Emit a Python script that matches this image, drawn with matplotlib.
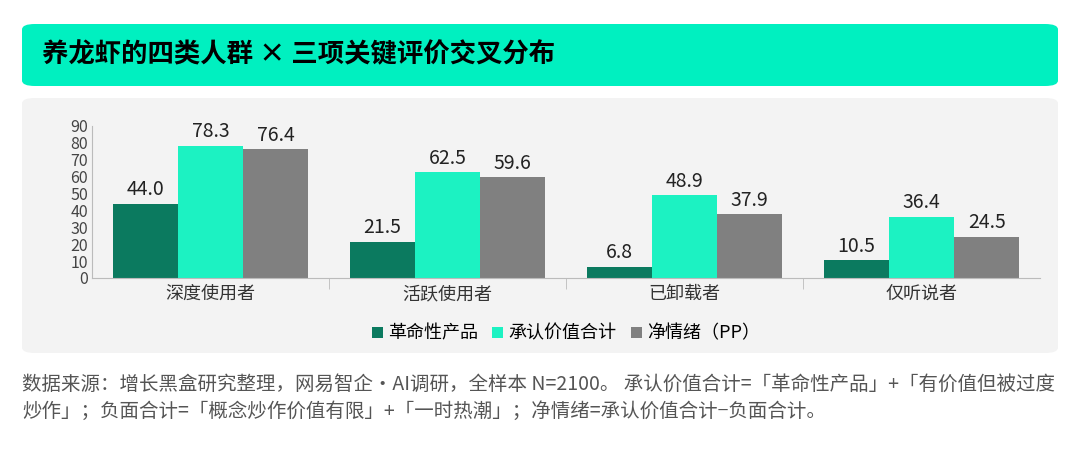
import numpy as np
import matplotlib.pyplot as plt
from matplotlib.patches import FancyBboxPatch

plt.rcParams['font.family'] = ['Noto Sans CJK SC', 'DejaVu Sans']

categories = ['深度使用者', '活跃使用者', '已卸载者', '仅听说者']
revolutionary = [44.0, 21.5, 6.8, 10.5]
recognized = [78.3, 62.5, 48.9, 36.4]
net_sentiment = [76.4, 59.6, 37.9, 24.5]
series_names = ['革命性产品', '承认价值合计', '净情绪（PP）']
colors = ['#0B7A5F', '#1CF2C2', '#808080']

W, H = 1080, 449
fig = plt.figure(figsize=(W / 100, H / 100), dpi=100)

# title band and panel background
fig.patches.append(FancyBboxPatch((22 / W, 1 - 86 / H), 1036 / W, 62 / H,
                                  boxstyle='round,pad=0,rounding_size=0.012',
                                  transform=fig.transFigure, fc='#00F0C0', ec='none',
                                  zorder=-1))
fig.patches.append(FancyBboxPatch((22 / W, 1 - 353 / H), 1036 / W, 255 / H,
                                  boxstyle='round,pad=0,rounding_size=0.012',
                                  transform=fig.transFigure, fc='#F3F3F3', ec='none',
                                  zorder=-1))
fig.text(42 / W, 1 - 55 / H, '养龙虾的四类人群 × 三项关键评价交叉分布',
         fontsize=19, fontweight='bold', va='center', ha='left')

ax = fig.add_axes([92 / W, 1 - 278 / H, 948 / W, 152 / H])
ax.set_facecolor('none')
x = np.arange(len(categories))
w = 0.275
for i, (vals, c) in enumerate(zip([revolutionary, recognized, net_sentiment], colors)):
    bars = ax.bar(x + (i - 1) * w, vals, w, color=c, label=series_names[i])
    for b, v in zip(bars, vals):
        ax.text(b.get_x() + b.get_width() / 2, v + 2, f'{v:.1f}',
                ha='center', va='bottom', fontsize=14, color='#222222')

ax.set_xlim(-0.5, len(categories) - 0.5)
ax.set_ylim(0, 90)
ax.set_yticks(range(0, 91, 10))
ax.tick_params(axis='y', labelsize=11.5, length=0, colors='#444444', pad=3)
ax.set_xticks(x)
ax.set_xticklabels(categories, fontsize=13, color='#333333')
ax.tick_params(axis='x', length=0, pad=5)
ax.set_xticks(np.arange(0.5, len(categories) - 1, 1), minor=True)
ax.tick_params(axis='x', which='minor', length=8, color='#BBBBBB')
for s in ['top', 'right']:
    ax.spines[s].set_visible(False)
for s in ['left', 'bottom']:
    ax.spines[s].set_color('#BBBBBB')

ax.legend(loc='upper center', bbox_to_anchor=(0.5, -0.2), ncol=3, frameon=False,
          fontsize=13, handlelength=0.6, handleheight=0.6, handletextpad=0.3,
          columnspacing=0.8)

foot = ('数据来源：增长黑盒研究整理，网易智企·AI调研，全样本 N=2100。 承认价值合计=「革命性产品」+「有价值但被过度\n'
        '炒作」；负面合计=「概念炒作价值有限」+「一时热潮」；净情绪=承认价值合计−负面合计。')
fig.text(22 / W, 1 - 374 / H, foot, fontsize=14, color='#555555', va='top',
         ha='left', linespacing=1.4)

fig.savefig('out.png', dpi=100)
